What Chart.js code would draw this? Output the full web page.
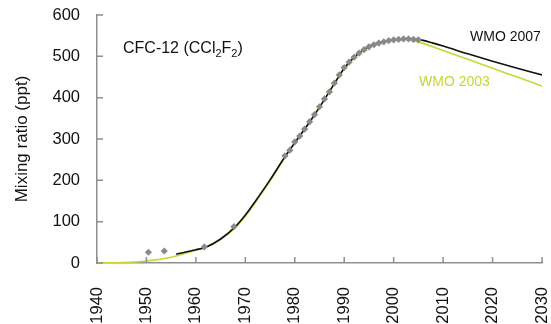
<!DOCTYPE html>
<html>
<head>
<meta charset="utf-8">
<script src="https://cdn.jsdelivr.net/npm/chart.js@4/dist/chart.umd.min.js"></script>
<style>
html,body{margin:0;padding:0;background:#fff;}
#wrap{width:551px;height:324px;position:relative;}
</style>
</head>
<body>
<div id="wrap"><canvas id="c" width="551" height="324"></canvas></div>
<script>
// ---- data ----
const xTicks = [1940, 1950, 1960, 1970, 1980, 1990, 2000, 2010, 2020, 2030];
const yTicks = [0, 100, 200, 300, 400, 500, 600];

const wmo2003Years = [1940, 1945, 1950, 1955, 1960, 1962, 1965, 1968, 1970, 1972, 1975, 1978, 1980, 1983, 1985, 1988, 1990, 1992, 1995, 1998, 2000, 2002, 2003, 2005, 2010, 2015, 2020, 2025, 2030];
const wmo2003Values = [0, 1, 5, 14, 31, 38, 57, 86, 113, 146, 198, 255, 290, 340, 376, 433, 470, 497, 523, 535, 539, 541, 540, 535, 514, 493, 471, 450, 428];

const wmo2007Years = [1956, 1960, 1962, 1965, 1968, 1970, 1972, 1975, 1978, 1980, 1983, 1985, 1988, 1990, 1992, 1995, 1998, 2000, 2002, 2003, 2005, 2008, 2010, 2015, 2020, 2025, 2030];
const wmo2007Values = [21, 32, 38, 58, 88, 116, 149, 201, 257, 291, 341, 377, 434, 471, 498, 524, 536, 540, 542, 543, 541, 532, 525, 506, 488, 471, 455];

const obsYears = [1950.4, 1953.6, 1961.7, 1967.7, 1978, 1979, 1980, 1981, 1982, 1983, 1984, 1985, 1986, 1987, 1988, 1989, 1990, 1991, 1992, 1993, 1994, 1995, 1996, 1997, 1998, 1999, 2000, 2001, 2002, 2003, 2004, 2005];
const obsValues = [26, 29, 39, 88, 259, 273, 293, 307, 324, 342, 359, 378, 397, 414, 435, 455, 473, 486, 498, 508, 516, 523, 528, 532, 535, 538, 540, 541, 542, 542, 541, 540];

const FONT = "'Liberation Sans', Arial, Helvetica, sans-serif";
const pts = (xs, ys) => xs.map((x, i) => ({x: x, y: ys[i]}));

const innerTicks = {
  id: 'innerTicks',
  afterDatasetsDraw(chart) {
    const ctx = chart.ctx;
    const xs = chart.scales.x, ys = chart.scales.y;
    const ca = chart.chartArea;
    ctx.save();
    ctx.strokeStyle = '#8f8f8f';
    ctx.lineWidth = 1.5;
    ctx.beginPath();
    xs.ticks.forEach((t, i) => {
      const px = xs.getPixelForTick(i);
      ctx.moveTo(px, ca.bottom);
      ctx.lineTo(px, ca.bottom - 6);
    });
    ys.ticks.forEach((t, i) => {
      const py = ys.getPixelForTick(i);
      ctx.moveTo(ca.left, py);
      ctx.lineTo(ca.left + 6, py);
    });
    ctx.stroke();

    // labels
    ctx.textBaseline = 'alphabetic';
    ctx.textAlign = 'left';
    ctx.fillStyle = '#111';
    let x = ca.left + 26, y = 53;
    const big = "16px " + FONT, small = "11px " + FONT;
    const parts = [["CFC-12 (CCl", big, 0], ["2", small, 4], ["F", big, 0], ["2", small, 4], [")", big, 0]];
    parts.forEach(p => {
      ctx.font = p[1];
      ctx.fillText(p[0], x, y + p[2]);
      x += ctx.measureText(p[0]).width;
    });
    ctx.font = "14px " + FONT;
    ctx.fillStyle = '#111';
    ctx.fillText("WMO 2007", 470, 41);
    ctx.fillStyle = '#c9d631';
    ctx.fillText("WMO 2003", 419, 86);
    ctx.restore();
  }
};

new Chart(document.getElementById('c'), {
  type: 'scatter',
  data: {
    datasets: [
      {
        label: 'Observations',
        data: pts(obsYears, obsValues),
        pointStyle: 'rectRot',
        pointRadius: 3.6,
        pointBackgroundColor: '#8a8a8a',
        pointBorderColor: '#8a8a8a',
        pointBorderWidth: 0,
        showLine: false,
        order: 0
      },
      {
        label: 'WMO 2007',
        data: pts(wmo2007Years, wmo2007Values),
        showLine: true,
        borderColor: '#111111',
        borderWidth: 1.6,
        pointRadius: 0,
        cubicInterpolationMode: 'monotone',
        order: 1
      },
      {
        label: 'WMO 2003',
        data: pts(wmo2003Years, wmo2003Values),
        showLine: true,
        borderColor: '#c9d631',
        borderWidth: 1.6,
        pointRadius: 0,
        cubicInterpolationMode: 'monotone',
        order: 2
      }
    ]
  },
  options: {
    responsive: false,
    animation: false,
    events: [],
    layout: { padding: { top: 15, right: 9, left: 0, bottom: 0 } },
    plugins: { legend: { display: false }, tooltip: { enabled: false } },
    scales: {
      x: {
        type: 'linear',
        min: 1940, max: 2030,
        afterBuildTicks: s => { s.ticks = xTicks.map(v => ({value: v})); },
        afterFit: s => { s.height = 61; s.paddingLeft = 0; s.paddingRight = 0; },
        grid: { drawOnChartArea: false, drawTicks: false },
        border: { display: true, color: '#8f8f8f', width: 1.5 },
        ticks: {
          minRotation: 90, maxRotation: 90,
          padding: 24,
          color: '#111',
          font: { family: FONT, size: 16.5 },
          callback: v => String(v)
        }
      },
      y: {
        min: 0, max: 600,
        afterBuildTicks: s => { s.ticks = yTicks.map(v => ({value: v})); },
        afterFit: s => { s.width = 97; s.paddingTop = 0; s.paddingBottom = 0; },
        grid: { drawOnChartArea: false, drawTicks: false },
        border: { display: true, color: '#8f8f8f', width: 1.5 },
        ticks: {
          padding: 17,
          color: '#111',
          font: { family: FONT, size: 16.5 },
          callback: v => String(v)
        },
        title: {
          display: true,
          text: 'Mixing ratio (ppt)',
          color: '#111',
          font: { family: FONT, size: 17 },
          padding: { top: 12, bottom: 0 }
        }
      }
    }
  },
  plugins: [innerTicks]
});
</script>
</body>
</html>
